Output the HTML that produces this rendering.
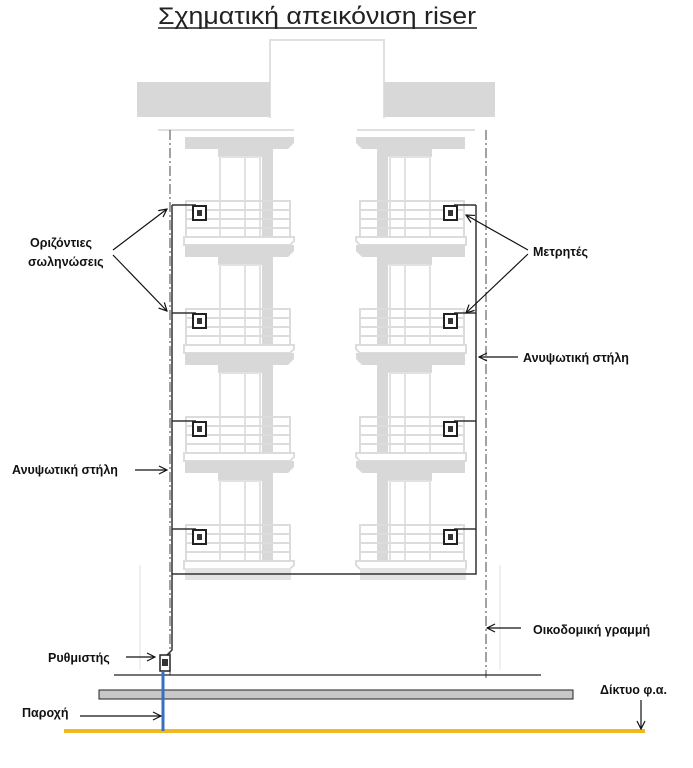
<!DOCTYPE html>
<html><head><meta charset="utf-8"><style>
html,body{margin:0;padding:0;background:#fff;}
svg{display:block;}
text{font-family:"Liberation Sans",sans-serif;}
.l{font-size:12.5px;font-weight:bold;fill:#111;}
</style></head><body>
<svg width="693" height="768" viewBox="0 0 693 768" xmlns="http://www.w3.org/2000/svg">
<defs>
<marker id="a" markerWidth="10" markerHeight="10" refX="9" refY="5" orient="auto" markerUnits="userSpaceOnUse">
<path d="M1,1 L9,5 L1,9" fill="none" stroke="#111" stroke-width="1.2"/></marker>
<g id="floor">
 <path d="M185,0 H294 V6 L288,12 H185 Z" fill="#d8d8d8"/>
 <rect x="218" y="12" width="55" height="8" fill="#d8d8d8"/>
 <rect x="262" y="12" width="11" height="88" fill="#d8d8d8"/>
 <rect x="220" y="20" width="40" height="80" fill="none" stroke="#e2e2e2" stroke-width="2"/>
 <line x1="245" y1="20" x2="245" y2="100" stroke="#e2e2e2" stroke-width="2"/>
 <rect x="186" y="64" width="104" height="36" fill="none" stroke="#dcdcdc" stroke-width="2"/>
 <line x1="186" y1="73" x2="290" y2="73" stroke="#dcdcdc" stroke-width="2"/>
 <line x1="186" y1="82" x2="290" y2="82" stroke="#dcdcdc" stroke-width="2"/>
 <line x1="186" y1="91" x2="290" y2="91" stroke="#dcdcdc" stroke-width="2"/>
 <path d="M184,100 H294 V104 L290,108 H184 Z" fill="none" stroke="#dcdcdc" stroke-width="2"/>
</g>
<g id="meter">
 <rect x="0" y="0" width="13" height="14" fill="#fff" stroke="#222" stroke-width="2"/>
 <rect x="4" y="4" width="5" height="6" fill="#333"/>
</g>
</defs>

<text x="158" y="24" font-size="24" fill="#222" textLength="318" lengthAdjust="spacingAndGlyphs">Σχηματική απεικόνιση riser</text>
<line x1="158" y1="28" x2="477" y2="28" stroke="#222" stroke-width="1.5"/>

<path d="M270,118 V40 H384 V118" fill="none" stroke="#e0e0e0" stroke-width="2"/>
<rect x="137" y="82" width="133" height="35" fill="#d8d8d8"/>
<rect x="384" y="82" width="111" height="35" fill="#d8d8d8"/>
<line x1="158" y1="130" x2="294" y2="130" stroke="#e0e0e0" stroke-width="2"/>
<line x1="357" y1="130" x2="475" y2="130" stroke="#e0e0e0" stroke-width="2"/>

<use href="#floor" y="137"/>
<use href="#floor" y="245"/>
<use href="#floor" y="353"/>
<use href="#floor" y="461"/>
<g transform="translate(650,0) scale(-1,1)">
<use href="#floor" y="137"/>
<use href="#floor" y="245"/>
<use href="#floor" y="353"/>
<use href="#floor" y="461"/>
</g>
<rect x="185" y="568" width="106" height="12" fill="#e4e4e4"/>
<rect x="360" y="568" width="106" height="12" fill="#e4e4e4"/>
<line x1="140" y1="565" x2="140" y2="670" stroke="#f0f0f0" stroke-width="2"/>
<line x1="500" y1="565" x2="500" y2="670" stroke="#f0f0f0" stroke-width="2"/>

<line x1="170" y1="130" x2="170" y2="675" stroke="#444" stroke-width="1" stroke-dasharray="10,3,2,3"/>
<line x1="486" y1="130" x2="486" y2="678" stroke="#444" stroke-width="1" stroke-dasharray="10,3,2,3"/>

<g fill="none" stroke="#333" stroke-width="1.5">
<path d="M172,205 V650 L167,655"/>
<path d="M172,205 H196"/><path d="M172,313 H196"/><path d="M172,421 H196"/><path d="M172,529 H196"/>
<path d="M476,205 V574 H172"/>
<path d="M476,205 H454"/><path d="M476,313 H454"/><path d="M476,421 H454"/><path d="M476,529 H454"/>
</g>
<use href="#meter" x="193" y="206"/><use href="#meter" x="193" y="314"/><use href="#meter" x="193" y="422"/><use href="#meter" x="193" y="530"/>
<use href="#meter" x="444" y="206"/><use href="#meter" x="444" y="314"/><use href="#meter" x="444" y="422"/><use href="#meter" x="444" y="530"/>

<line x1="114" y1="675" x2="541" y2="675" stroke="#222" stroke-width="1.3"/>
<rect x="99" y="690" width="474" height="9" fill="#c8c8c8" stroke="#222" stroke-width="1"/>
<line x1="64" y1="731" x2="645" y2="731" stroke="#f2b820" stroke-width="4"/>
<line x1="163" y1="672" x2="163" y2="731" stroke="#3a6fc0" stroke-width="3"/>
<rect x="160" y="655" width="10" height="16" fill="#fff" stroke="#222" stroke-width="1.5"/>
<rect x="162" y="659" width="6" height="7" fill="#333"/>

<g stroke="#111" stroke-width="1.2" fill="none" marker-end="url(#a)">
<line x1="113" y1="250" x2="167" y2="209"/>
<line x1="113" y1="255" x2="167" y2="311"/>
<line x1="528" y1="250" x2="466" y2="215"/>
<line x1="528" y1="254" x2="466" y2="313"/>
<line x1="518" y1="357" x2="479" y2="357"/>
<line x1="135" y1="470" x2="167" y2="470"/>
<line x1="521" y1="628" x2="487" y2="628"/>
<line x1="126" y1="657" x2="155" y2="657"/>
<line x1="80" y1="716" x2="161" y2="716"/>
<line x1="641" y1="700" x2="641" y2="729"/>
</g>
<text class="l" x="30" y="247">Οριζόντιες</text>
<text class="l" x="28" y="266">σωληνώσεις</text>
<text class="l" x="533" y="256">Μετρητές</text>
<text class="l" x="523" y="362">Ανυψωτική στήλη</text>
<text class="l" x="12" y="474">Ανυψωτική στήλη</text>
<text class="l" x="533" y="634">Οικοδομική γραμμή</text>
<text class="l" x="48" y="662">Ρυθμιστής</text>
<text class="l" x="22" y="717">Παροχή</text>
<text class="l" x="600" y="694">Δίκτυο φ.α.</text>
</svg>
</body></html>
